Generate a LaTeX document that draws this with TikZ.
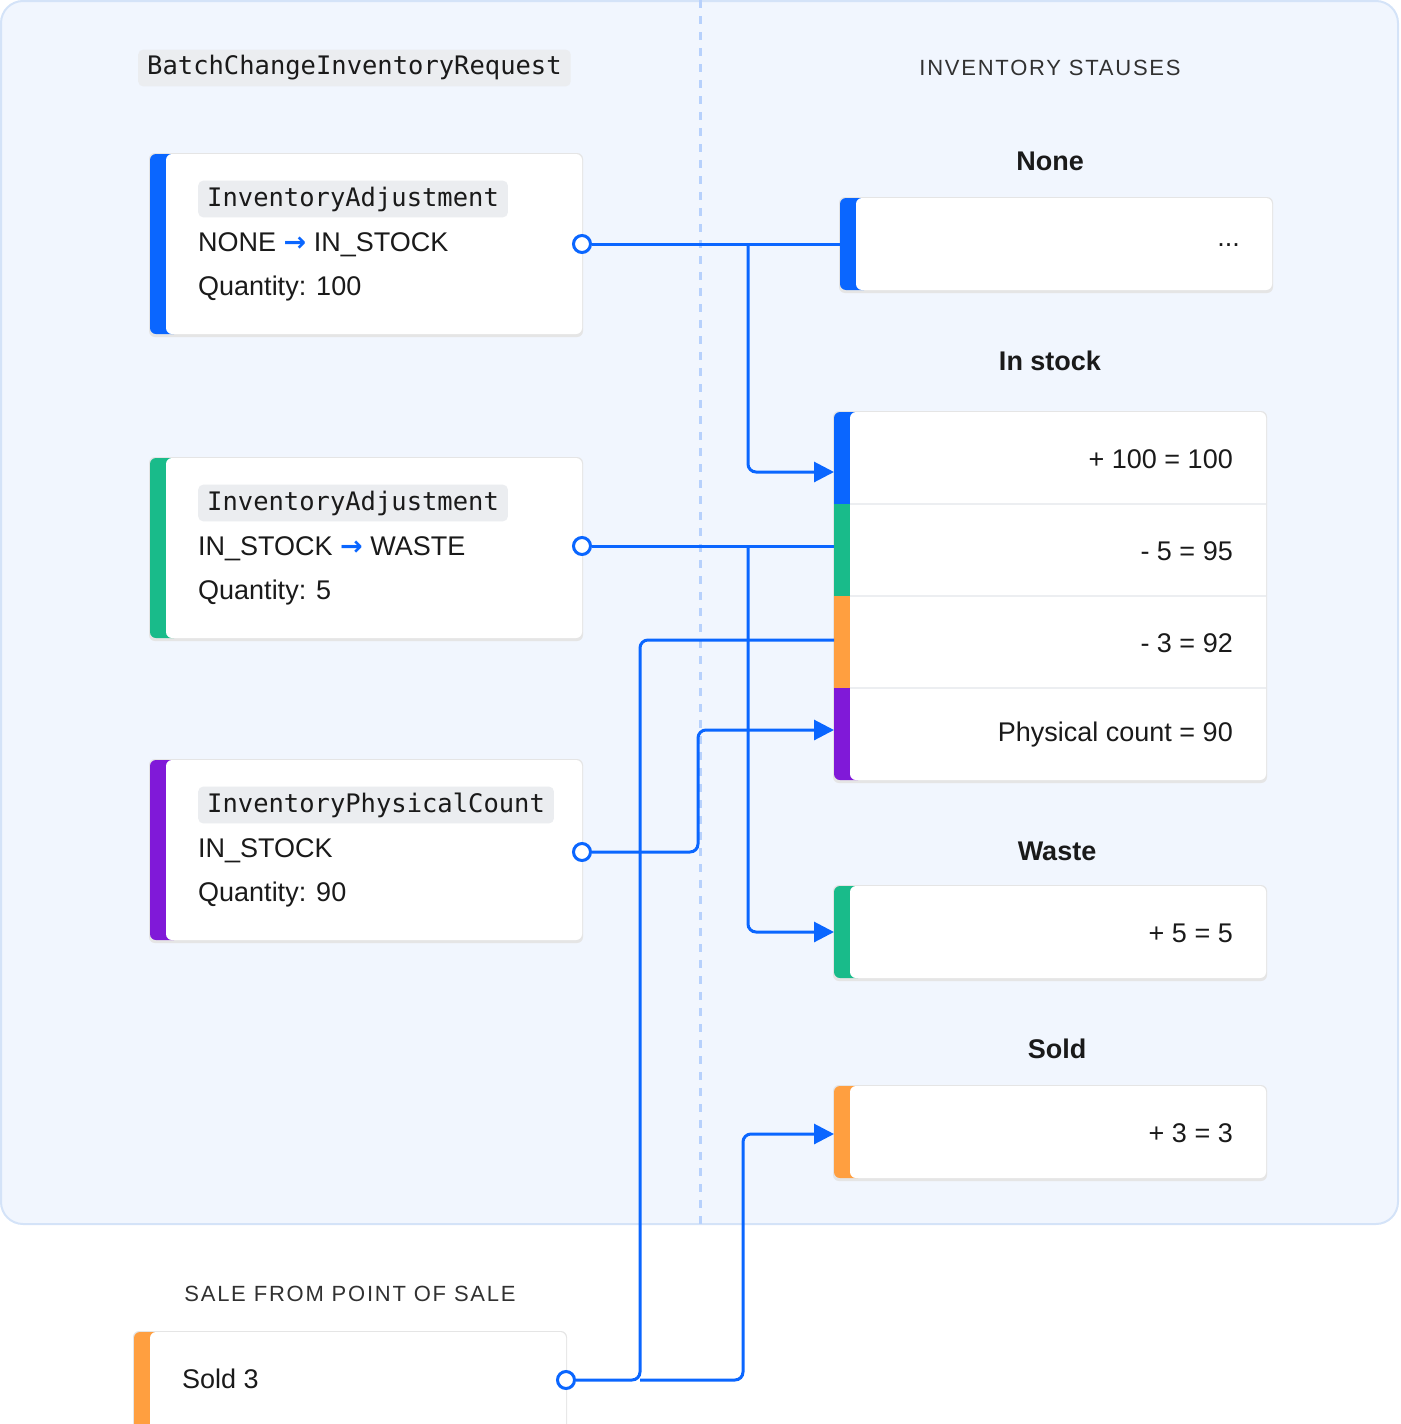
\documentclass[tikz,border=0pt]{standalone}
\usepackage{fontspec}
\setmainfont{Liberation Sans}
\newfontfamily\monof{DejaVu Sans Mono}
\newfontfamily\symf{DejaVu Sans}
\usetikzlibrary{arrows.meta}
\definecolor{panel}{HTML}{F1F6FE}
\definecolor{panelb}{HTML}{D4E3F8}
\definecolor{cblue}{HTML}{0A66FF}
\definecolor{cgreen}{HTML}{19BB8A}
\definecolor{corange}{HTML}{FF9F40}
\definecolor{cpurple}{HTML}{8019D8}
\definecolor{codebg}{HTML}{EBEDF0}
\definecolor{txt}{HTML}{1A1A1A}
\definecolor{sep}{HTML}{ECEEF1}
\newcommand{\mycard}[6]{%
  \fill[black!10,rounded corners=6pt] (#2-1,#3-1) rectangle (#4+1,#5+3);
  \fill[#6,rounded corners=6pt] (#2,#3) rectangle (#2+30,#5);
  \fill[white,rounded corners=6pt] (#2+16,#3) rectangle (#4,#5);
  \coordinate (#1) at (#2,#3);}
\tikzset{
  wire/.style={draw=cblue,line width=3pt,rounded corners=8pt},
  arr/.style={wire,-{Triangle[length=20pt,width=20pt]}},
  dot/.style={circle,draw=cblue,line width=3pt,fill=white,minimum size=17pt,inner sep=0pt},
  body/.style={inner sep=0pt,font=\fontsize{27}{30}\selectfont,text=txt},
  code/.style={fill=codebg,rounded corners=5pt,inner xsep=9pt,inner ysep=6pt,font=\monof\fontsize{25.5}{30}\selectfont,text=txt},
  ttl/.style={inner sep=0pt,font=\bfseries\fontsize{27}{30}\selectfont,text=txt},
  caps/.style={inner sep=0pt,font=\fontsize{22}{26}\selectfont\addfontfeature{LetterSpace=8},text=txt!90},
}
\newcommand{\ar}{{\symf\bfseries\color{cblue}→}}
\begin{document}
\begin{tikzpicture}[x=1pt,y=-1pt]
\useasboundingbox (0,0) rectangle (1400,1424);
\fill[panel,draw=panelb,line width=2pt,rounded corners=22pt] (1,1) rectangle (1398,1224);
\draw[panelb!70!cblue!70,line width=3pt,dash pattern=on 8pt off 8pt] (700,0) -- (700,1224);

\node[code,anchor=west] (req) at (138,68) {BatchChangeInventoryRequest};
\node[caps] (stat) at (1050,68) {INVENTORY STAUSES};

% left cards
\mycard{c1}{150}{154}{582}{334}{cblue}
\node[code,anchor=west] (c1t) at (198,199) {InventoryAdjustment};
\node[body,anchor=west] (c1a) at (198,245) {NONE \ar\ IN\_STOCK};
\node[body,anchor=west] (c1b) at (198,289) {Quantity: 100};

\mycard{c2}{150}{458}{582}{638}{cgreen}
\node[code,anchor=west] (c2t) at (198,503) {InventoryAdjustment};
\node[body,anchor=west] (c2a) at (198,549) {IN\_STOCK \ar\ WASTE};
\node[body,anchor=west] (c2b) at (198,593) {Quantity: 5};

\mycard{c3}{150}{760}{582}{940}{cpurple}
\node[code,anchor=west] (c3t) at (198,805) {InventoryPhysicalCount};
\node[body,anchor=west] (c3a) at (198,851) {IN\_STOCK};
\node[body,anchor=west] (c3b) at (198,895) {Quantity: 90};

\node[caps] (salet) at (350,1294) {SALE FROM POINT OF SALE};
\mycard{c4}{134}{1332}{566}{1430}{corange}
\node[body,anchor=west] (c4a) at (182,1379) {Sold 3};

% right boxes
\node[ttl] (tnone) at (1050,161) {None};
\mycard{bn}{840}{198}{1272}{290}{cblue}
\node[body,anchor=east] (bnt) at (1240,245) {...};

\node[ttl] (tin) at (1050,361) {In stock};
\fill[black!10,rounded corners=6pt] (833,411) rectangle (1267,783);
\fill[cblue,rounded corners=6pt] (834,412) rectangle (864,520);
\fill[cpurple,rounded corners=6pt] (834,670) rectangle (864,780);
\fill[cgreen] (834,504) rectangle (850,596);
\fill[corange] (834,596) rectangle (850,688);
\fill[cpurple] (834,688) rectangle (850,700);
\fill[white,rounded corners=6pt] (850,412) rectangle (1266,780);
\draw[sep,line width=1.5pt] (850,504) -- (1266,504) (850,596) -- (1266,596) (850,688) -- (1266,688);
\coordinate (r1) at (834,472);
\coordinate (r2) at (834,546);
\coordinate (r3) at (834,640);
\coordinate (r4) at (834,730);
\node[body,anchor=east] (i1) at (1233,459) {+ 100 = 100};
\node[body,anchor=east] (i2) at (1233,551) {- 5 = 95};
\node[body,anchor=east] (i3) at (1233,643) {- 3 = 92};
\node[body,anchor=east] (i4) at (1233,735) {Physical count = 90};

\node[ttl] (twaste) at (1057,851) {Waste};
\mycard{bw}{834}{886}{1266}{978}{cgreen}
\node[body,anchor=east] (bwt) at (1233,933) {+ 5 = 5};

\node[ttl] (tsold) at (1057,1049) {Sold};
\mycard{bs}{834}{1086}{1266}{1178}{corange}
\node[body,anchor=east] (bst) at (1233,1133) {+ 3 = 3};

\coordinate (bnL) at (840,244);
\coordinate (bwL) at (834,932);
\coordinate (bsL) at (834,1134);

% connectors
\node[dot] (d1) at (582,244) {};
\node[dot] (d2) at (582,546) {};
\node[dot] (d3) at (582,852) {};
\node[dot] (d4) at (566,1380) {};
\coordinate (j1) at (748,244);
\coordinate (j2) at (748,546);
\coordinate (j4) at (640,1380);

\draw[wire] (d1) -- (bnL);
\draw[arr] (j1) |- (r1);
\draw[wire] (d2) -- (r2);
\draw[arr] (j2) |- (bwL);
\draw[arr] (d3) -| (698,790) |- (r4);
\draw[wire] (d4) -- (j4) |- (r3);
\draw[arr] (j4) -| (743,1250) |- (bsL);
\end{tikzpicture}
\end{document}
